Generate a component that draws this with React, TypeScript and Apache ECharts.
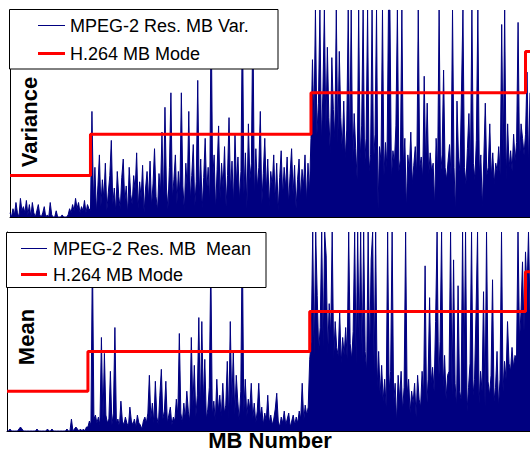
import React, { useEffect, useRef } from "react";
import * as echarts from "echarts";

// ---- Variance panel (MPEG-2 residual MB variance), one array per H.264 mode region ----
const varRegion0 = [
  2, 0, 4, 1, 7, 2, 0, 9, 3, 5,
  2, 8, 1, 6, 0, 7, 2, 0, 3, 6,
  1, 0, 2, 5, 0, 1, 0, 7, 1, 0,
  0, 3, 0, 0, 0, 1, 0, 0, 0, 1,
  4, 2, 6, 3, 9, 4, 7, 2, 5, 3,
  8, 2, 6, 4,
];
const varRegion1 = [
  3, 51, 8, 24, 2, 15, 30, 5, 18, 9,
  26, 3, 12, 20, 37, 6, 14, 2, 22, 10,
  4, 19, 28, 7, 15, 1, 24, 11, 6, 20,
  13, 31, 4, 17, 9, 25, 2, 14, 22, 8,
  27, 5, 16, 33, 10, 3, 21, 12, 41, 7,
  53, 14, 4, 24, 60, 9, 18, 30, 6, 22,
  11, 60, 15, 3, 26, 13, 51, 8, 20, 35,
  5, 17, 66, 10, 28, 4, 19, 38, 12, 24,
  7, 100, 18, 30, 3, 23, 44, 9, 26, 14,
  34, 5, 20, 48, 12, 27, 6, 40, 16, 29,
  8, 22, 100, 11, 31, 4, 45, 18, 26, 100,
  9, 33, 14, 24, 51, 6, 21, 38, 12, 28,
  5, 22, 15, 30, 8, 26, 3, 19, 32, 10,
  24, 14, 29, 6, 21, 33, 11, 25, 4, 18,
  28, 9, 23, 15, 30, 7, 26, 12,
];
const varRegion2 = [
  38, 76, 45, 100, 40, 55, 100, 36, 60, 100,
  42, 82, 48, 30, 77, 52, 38, 100, 35, 80,
  48, 32, 56, 28, 42, 100, 30, 100, 26, 50,
  33, 18, 100, 28, 44, 100, 24, 38, 100, 22,
  30, 100, 26, 40, 100, 4, 34, 27, 100, 20,
  36, 24, 100, 100, 18, 32, 26, 44, 100, 22,
  28, 100, 24, 38, 3, 30, 22, 41, 16, 25,
  34, 20, 100, 24, 29, 18, 68, 24, 55, 20,
  31, 22, 26, 5, 38, 22, 100, 20, 30, 71,
  24, 18, 27, 35, 20, 100, 24, 2, 56, 29,
  22, 60, 100, 24, 16, 33, 50, 21, 100, 26,
  18, 37, 100, 21, 30, 4, 28, 55, 20, 24,
  45, 19, 31, 16, 26, 22, 34, 20, 93, 28,
  100, 18, 45, 24, 32, 22, 40, 27, 36, 94,
  26, 45, 38, 30,
];
const varRegion3 = [40, 70, 25, 60];

// ---- Mean panel (MPEG-2 residual MB mean) ----
const meanRegion0 = [
  0, 0, 1, 0, 0, 0, 0, 0, 1, 2,
  1, 0, 0, 0, 0, 0, 0, 0, 0, 0,
  1, 0, 0, 0, 0, 0, 0, 1, 0, 0,
  1, 0, 0, 0, 0, 0, 0, 0, 0, 0,
  1, 0, 0, 6, 0, 1, 2, 1, 0, 1,
  0, 1, 0, 2,
];
const meanRegion1 = [
  2, 5, 3, 90, 6, 8, 4, 7, 3, 47,
  5, 39, 8, 4, 6, 30, 3, 9, 52, 4,
  6, 2, 15, 5, 3, 7, 4, 2, 12, 5,
  3, 6, 2, 8, 4, 3, 1, 5, 7, 4,
  9, 28, 6, 14, 4, 25, 7, 3, 18, 31,
  6, 10, 25, 4, 8, 12, 3, 7, 5, 16,
  8, 49, 9, 4, 14, 6, 20, 10, 5, 47,
  12, 33, 7, 18, 57, 9, 55, 14, 36, 6,
  11, 22, 85, 8, 15, 5, 26, 10, 18, 7,
  24, 9, 13, 35, 6, 55, 12, 40, 8, 28,
  15, 5, 20, 100, 9, 26, 7, 16, 11, 24,
  6, 14, 4, 10, 24, 7, 12, 3, 9, 5,
  18, 4, 8, 3, 6, 11, 19, 5, 2, 7,
  4, 10, 3, 6, 9, 2, 5, 8, 3, 7,
  4, 10, 6, 24, 5, 13, 8, 12,
];
const meanRegion2 = [
  36, 45, 100, 38, 100, 68, 40, 52, 100, 42,
  100, 88, 38, 64, 48, 100, 36, 55, 42, 38,
  60, 34, 47, 38, 52, 36, 100, 44, 36, 50,
  100, 34, 100, 45, 100, 36, 100, 40, 30, 100,
  36, 86, 100, 30, 100, 22, 40, 18, 33, 15,
  26, 12, 100, 20, 30, 100, 14, 24, 4, 28,
  16, 30, 10, 22, 100, 18, 26, 9, 20, 14,
  24, 7, 28, 16, 12, 30, 18, 83, 10, 26,
  67, 24, 32, 20, 55, 100, 22, 45, 100, 22,
  38, 16, 28, 30, 100, 18, 86, 24, 12, 73,
  20, 16, 100, 30, 100, 10, 22, 34, 100, 18,
  26, 60, 100, 14, 30, 20, 70, 12, 100, 25,
  18, 28, 76, 15, 22, 40, 12, 26, 100, 20,
  35, 26, 55, 34, 30, 42, 32, 38, 36, 100,
  45, 60, 85, 50,
];
const meanRegion3 = [90, 70, 100, 60];

// H.264 MB mode level drawn for each region
const modeLevels = [20, 40, 60, 80];

const seriesNames = {
  variance: "MPEG-2 Res. MB Var.",
  mean: "MPEG-2 Res. MB  Mean",
  mode: "H.264 MB Mode",
};
const axisTitles = { top: "Variance", bottom: "Mean", x: "MB Number" };

function buildSeries(regions: number[][]) {
  const values: number[] = ([] as number[]).concat(...regions);
  const points = values.map((v, i) => [i, v]);
  const steps: number[][] = [];
  let start = 0;
  regions.forEach((r, k) => {
    steps.push([start, modeLevels[k]]);
    start += r.length;
  });
  steps.push([values.length - 1, modeLevels[regions.length - 1]]);
  return { points, steps, last: values.length - 1 };
}

const FONT = "'Liberation Sans', Arial, sans-serif";
const NAVY = "#000080";

export default function App() {
  const ref = useRef<HTMLDivElement>(null);
  useEffect(() => {
    const chart = echarts.init(ref.current!, null, { renderer: "svg" });
    const top = buildSeries([varRegion0, varRegion1, varRegion2, varRegion3]);
    const bot = buildSeries([meanRegion0, meanRegion1, meanRegion2, meanRegion3]);

    const xAxisBase = (gridIndex: number, max: number) => ({
      type: "value",
      gridIndex,
      min: 0,
      max,
      axisLine: { show: true, lineStyle: { color: "#000", width: 1 } },
      axisTick: { show: false },
      axisLabel: { show: false },
      splitLine: { show: false },
    });
    const yAxisBase = (gridIndex: number) => ({
      type: "value",
      gridIndex,
      min: 0,
      max: 100,
      axisLine: { show: true, lineStyle: { color: "#000", width: 1 } },
      axisTick: { show: false },
      axisLabel: { show: false },
      splitLine: { show: false },
    });

    const legendBox = (x: number, y: number, w: number, h: number, lx1: number, lx2: number, tx: number, y1: number, y2: number, name1: string) => [
      {
        type: "rect",
        z: 100,
        shape: { x, y, width: w, height: h },
        style: { fill: "#fff", stroke: "#000", lineWidth: 1 },
      },
      {
        type: "line",
        z: 101,
        shape: { x1: lx1, y1: y1, x2: lx2, y2: y1 },
        style: { stroke: NAVY, lineWidth: 1 },
      },
      {
        type: "line",
        z: 101,
        shape: { x1: lx1, y1: y2, x2: lx2, y2: y2 },
        style: { stroke: "#ff0000", lineWidth: 3 },
      },
      {
        type: "text",
        z: 101,
        x: tx,
        y: y1,
        style: { text: name1, font: `18px ${FONT}`, fill: "#000", textAlign: "left", textVerticalAlign: "middle" },
      },
      {
        type: "text",
        z: 101,
        x: tx,
        y: y2,
        style: { text: seriesNames.mode, font: `18px ${FONT}`, fill: "#000", textAlign: "left", textVerticalAlign: "middle" },
      },
    ];

    const dataSeries = (name: string, idx: number, data: number[][]) => ({
      name,
      type: "line",
      xAxisIndex: idx,
      yAxisIndex: idx,
      data,
      showSymbol: false,
      lineStyle: { color: NAVY, width: 1 },
      areaStyle: { color: NAVY, opacity: 1 },
      z: 2,
    });
    const modeSeries = (idx: number, data: number[][]) => ({
      name: seriesNames.mode,
      type: "line",
      xAxisIndex: idx,
      yAxisIndex: idx,
      data,
      step: "end",
      showSymbol: false,
      lineStyle: { color: "#ff0000", width: 3 },
      z: 3,
    });

    chart.setOption({
      animation: false,
      backgroundColor: "#fff",
      grid: [
        { left: 10, right: 0, top: 10, height: 207 },
        { left: 7, right: 0, top: 232, height: 199 },
      ],
      xAxis: [xAxisBase(0, top.last), xAxisBase(1, bot.last)],
      yAxis: [yAxisBase(0), yAxisBase(1)],
      series: [
        dataSeries(seriesNames.variance, 0, top.points),
        modeSeries(0, top.steps),
        dataSeries(seriesNames.mean, 1, bot.points),
        modeSeries(1, bot.steps),
      ],
      graphic: [
        ...legendBox(9.5, 9.5, 268.5, 59.5, 38, 65, 70, 25.5, 53.5, seriesNames.variance),
        ...legendBox(6.5, 232.5, 259.5, 55, 21, 47, 53, 248.5, 274.5, seriesNames.mean),
        {
          type: "text",
          z: 101,
          x: 29,
          y: 122,
          rotation: Math.PI / 2,
          style: { text: axisTitles.top, font: `bold 22px ${FONT}`, fill: "#000", textAlign: "center", textVerticalAlign: "middle" },
        },
        {
          type: "text",
          z: 101,
          x: 26,
          y: 337,
          rotation: Math.PI / 2,
          style: { text: axisTitles.bottom, font: `bold 22px ${FONT}`, fill: "#000", textAlign: "center", textVerticalAlign: "middle" },
        },
        {
          type: "text",
          z: 101,
          x: 270,
          y: 440,
          style: { text: axisTitles.x, font: `bold 22px ${FONT}`, fill: "#000", textAlign: "center", textVerticalAlign: "middle" },
        },
      ],
    });
    return () => chart.dispose();
  }, []);
  return <div ref={ref} style={{ position: "fixed", left: 0, top: 0, width: 530, height: 455 }} />;
}
